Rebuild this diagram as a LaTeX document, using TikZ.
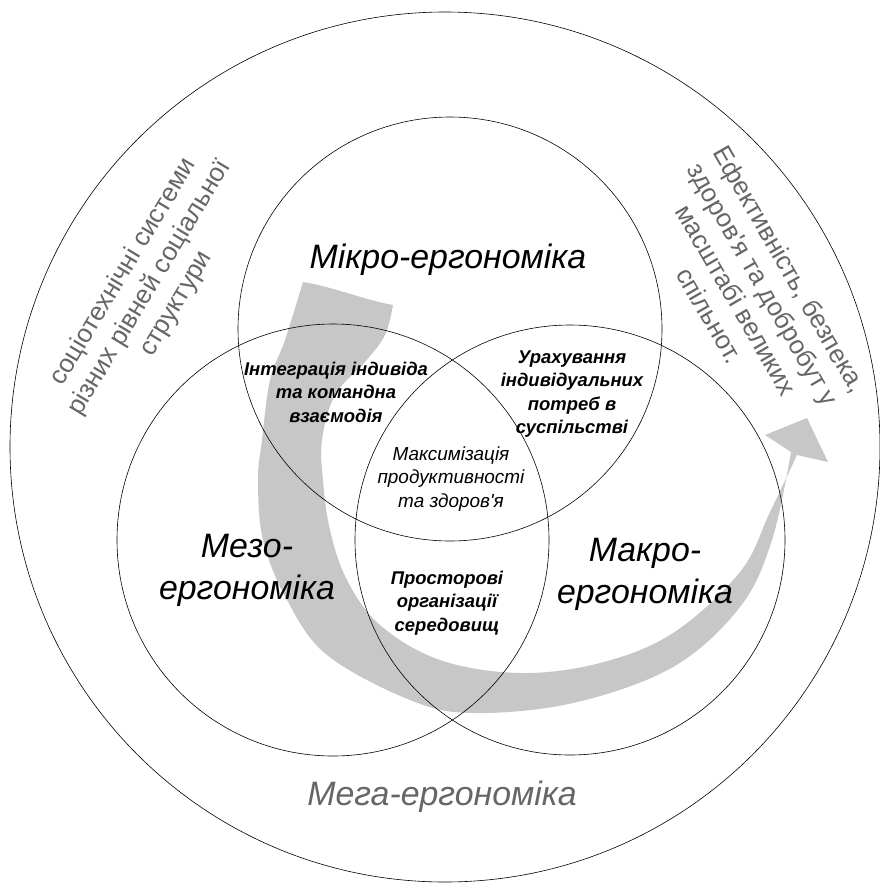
\documentclass[tikz,border=0pt]{standalone}
\usepackage{fontspec}
\setmainfont{Liberation Sans}[Ligatures=TeXOff]

\begin{document}
\begin{tikzpicture}[
    x=1bp, y=-1bp,
    ring/.style={draw, line width=0.6pt},
    flow/.style={fill=black!22},
    big/.style={font=\fontsize{34}{42}\selectfont\itshape, align=center},
    part/.style={font=\fontsize{18.5}{23.5}\selectfont\bfseries\itshape, align=center},
    core/.style={font=\fontsize{19}{23.5}\selectfont\itshape, align=center},
    side/.style={font=\fontsize{26}{31}\selectfont, text=black!60, align=center}
]
\useasboundingbox (0,0) rectangle (880,883);

% centres of the rings
\coordinate (mega)  at (445,447);
\coordinate (micro) at (450,329);
\coordinate (meso)  at (333,540);
\coordinate (macro) at (570,540);

% grey sweep arrow
\fill[flow] plot[smooth, tension=0.6] coordinates {(303,282) (285,340) (270,380) (262,440) (258,480) (263,540) (287,600) (327,655) (410,700) (473,713) (573,703) (673,667) (740,607) (772,540) (791,452)}
  -- (765,435) -- (807,418) -- (828,462) -- (797,455)
  -- plot[smooth, tension=0.6] coordinates {(797,455) (770,512) (740,572) (673,633) (600,663) (520,673) (440,660) (380,625) (347,580) (330,530) (323,480) (322,440) (335,395) (365,362) (385,335) (393,305)}
  .. controls (365,300) and (330,286) .. (303,282) -- cycle;

% rings
\draw[ring] (mega) circle[radius=435];
\draw[ring] (micro) circle[radius=212];
\draw[ring] (meso) circle[radius=216];
\draw[ring] (macro) circle[radius=215];

% main labels
\node[big, anchor=base] (microlbl) at (448,268) {Мікро-ергономіка};
\node[big] (mesolbl) at (247,570) {Мезо-\\ергономіка};
\node[big] (macrolbl) at (645,574) {Макро-\\ергономіка};
\node[big, anchor=base, text=black!60] (megalbl) at (442,805) {Мега-ергономіка};

% overlaps
\node[part] (team) at (336,392) {Інтеграція індивіда\\та командна\\взаємодія};
\node[part] (needs) at (572,394) {Урахування\\індивідуальних\\потреб в\\суспільстві};
\node[core] (max) at (451,479) {Максимізація\\продуктивності\\та здоров'я};
\node[part] (space) at (447,603) {Просторові\\організації\\середовищ};

% side notes
\node[side, rotate=59] (systems) at (150,288) {соціотехнічні системи\\різних рівней соціальної\\структури};
\node[side, rotate=-60] (goals) at (750,292) {Ефективність, безпека,\\здоров'я та добробут у\\масштабі великих\\спільнот.};
\end{tikzpicture}
\end{document}
